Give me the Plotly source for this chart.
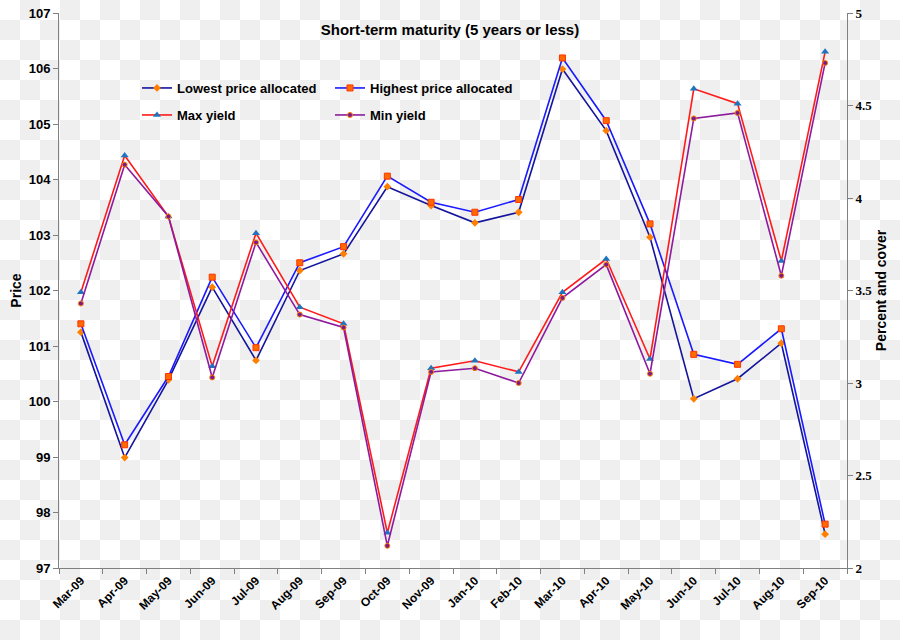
import plotly.graph_objects as go

# ---------------- data ----------------
months = ["Mar-09", "Apr-09", "May-09", "Jun-09", "Jul-09", "Aug-09", "Sep-09", "Oct-09",
          "Nov-09", "Jan-10", "Feb-10", "Mar-10", "Apr-10", "May-10", "Jun-10", "Jul-10",
          "Aug-10", "Sep-10"]

lowest_price = [101.25, 98.99, 100.39, 102.06, 100.74, 102.36, 102.66, 103.87,
                103.53, 103.22, 103.41, 105.99, 104.88, 102.96, 100.05, 100.41,
                101.05, 97.61]
highest_price = [101.40, 99.22, 100.45, 102.24, 100.97, 102.50, 102.79, 104.06,
                 103.59, 103.41, 103.64, 106.19, 105.06, 103.20, 100.85, 100.67,
                 101.31, 97.79]
max_yield = [3.49, 4.23, 3.90, 3.09, 3.81, 3.41, 3.32, 2.19,
             3.08, 3.12, 3.06, 3.49, 3.67, 3.13, 4.59, 4.51,
             3.66, 4.79]
min_yield = [3.43, 4.18, 3.90, 3.03, 3.76, 3.37, 3.30, 2.12,
             3.06, 3.08, 3.00, 3.46, 3.64, 3.05, 4.43, 4.46,
             3.58, 4.73]

W, H = 900, 640
PLOT_L, PLOT_R, PLOT_T, PLOT_B = 59, 847, 13, 568

sans = "Liberation Sans, Arial, sans-serif"
serif = "Liberation Serif, Times New Roman, serif"

fig = go.Figure()

fig.add_trace(go.Scatter(
    x=months, y=lowest_price, name="Lowest price allocated", mode="lines+markers",
    line=dict(color="#14149c", width=1.6),
    marker=dict(symbol="diamond", size=6, color="#ff8000", line=dict(width=0)),
    legend="legend", yaxis="y"))
fig.add_trace(go.Scatter(
    x=months, y=highest_price, name="Highest price allocated", mode="lines+markers",
    line=dict(color="#1a1aff", width=1.6),
    marker=dict(symbol="square", size=6, color="#ff6a00", line=dict(width=1, color="#ff3300")),
    legend="legend", yaxis="y"))
fig.add_trace(go.Scatter(
    x=months, y=max_yield, name="Max yield", mode="lines+markers",
    line=dict(color="#ff1a1a", width=1.6),
    marker=dict(symbol="triangle-up", size=7, color="#1f74c0", line=dict(width=0)),
    legend="legend2", yaxis="y2"))
fig.add_trace(go.Scatter(
    x=months, y=min_yield, name="Min yield", mode="lines+markers",
    line=dict(color="#8e1a9e", width=1.6),
    marker=dict(symbol="circle", size=5, color="#7a1a8c", line=dict(width=1, color="#ff8000")),
    legend="legend2", yaxis="y2"))

# checkerboard background (transparency pattern of the reference picture)
cell = 20
parts = []
for r in range(H // cell + 1):
    for c in range(W // cell + 1):
        if (r + c) % 2 == 1:
            x0, x1 = c * cell / W, (c + 1) * cell / W
            y0, y1 = 1 - r * cell / H, 1 - (r + 1) * cell / H
            parts.append(f"M{x0:.5f},{y0:.5f}H{x1:.5f}V{y1:.5f}H{x0:.5f}Z")
fig.add_shape(type="path", path="".join(parts), xref="paper", yref="paper",
              fillcolor="#efefef", line=dict(width=0), layer="below")

axis_common = dict(showline=True, linecolor="#808080", linewidth=1,
                   ticks="outside", ticklen=5, tickcolor="#808080",
                   showgrid=False, zeroline=False, automargin=False)

legend_common = dict(orientation="h", xanchor="left", yanchor="middle",
                     entrywidth=148, entrywidthmode="pixels",
                     bgcolor="rgba(0,0,0,0)",
                     font=dict(family=sans, size=13, color="#000000", weight="bold"),
                     itemwidth=30)

fig.update_layout(
    width=W, height=H, margin=dict(l=0, r=0, t=0, b=0, autoexpand=False),
    paper_bgcolor="#ffffff", plot_bgcolor="rgba(0,0,0,0)",
    font=dict(family=sans, color="#000000"),
    title=dict(text="Short-term maturity (5 years or less)", x=0.5, xanchor="center",
               xref="paper", y=1 - 30 / H, yanchor="middle", yref="paper",
               font=dict(family=sans, size=15, color="#000000", weight="bold")),
    xaxis=dict(type="category", domain=[PLOT_L / W, PLOT_R / W], range=[-0.5, len(months) - 0.5],
               tickson="boundaries", tickangle=-45,
               tickfont=dict(family=sans, size=12, color="#000000", weight="bold"),
               anchor="y", **axis_common),
    yaxis=dict(domain=[1 - PLOT_B / H, 1 - PLOT_T / H], range=[97, 107], dtick=1,
               tickfont=dict(family=sans, size=13, color="#000000", weight="bold"),
               title=dict(text="Price", standoff=3,
                          font=dict(family=sans, size=14, color="#000000", weight="bold")),
               anchor="x", **axis_common),
    yaxis2=dict(overlaying="y", side="right", range=[2, 5], dtick=0.5, anchor="x",
                tickfont=dict(family=serif, size=13, color="#000000", weight="bold"),
                title=dict(text="Percent and cover", standoff=4,
                           font=dict(family=sans, size=14, color="#000000", weight="bold")),
                **axis_common),
    legend=dict(x=137 / W, y=1 - 88 / H, **legend_common),
    legend2=dict(x=137 / W, y=1 - 115 / H, **legend_common),
)

fig.write_html("out.html")
